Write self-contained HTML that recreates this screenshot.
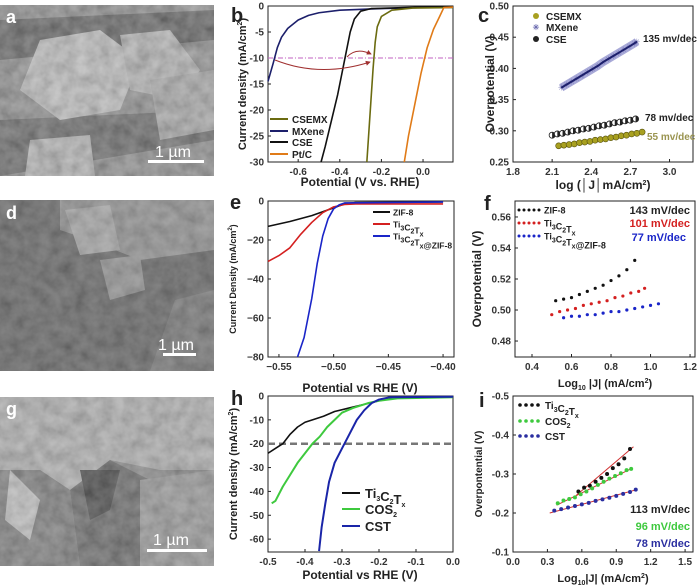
<!DOCTYPE html>
<html><head><meta charset="utf-8"><style>
html,body{margin:0;padding:0;background:#fff;}
svg{display:block;font-family:"Liberation Sans",sans-serif;}
</style></head><body>
<svg id="fig" width="700" height="588" viewBox="0 0 700 588">
<defs>
<filter id="tex" x="0" y="0" width="100%" height="100%"><feTurbulence type="fractalNoise" baseFrequency="0.08" numOctaves="3" seed="4"/><feColorMatrix type="saturate" values="0"/><feComponentTransfer><feFuncA type="linear" slope="0" intercept="0.7"/></feComponentTransfer></filter>
<marker id="ah" viewBox="0 0 6 6" refX="5" refY="3" markerWidth="5" markerHeight="5" orient="auto"><path d="M0,0 L6,3 L0,6z" fill="#a03030"/></marker>
</defs>
<g>
<rect x="0" y="5" width="214" height="171" fill="#7c7c7c"/>
<polygon points="0,20 214,10 214,40 0,60" fill="#4a4a4a"/>
<polygon points="0,120 214,110 214,140 0,176" fill="#505050"/>
<polygon points="40,40 100,30 140,60 120,110 60,120 20,90" fill="#b4b4b4"/>
<polygon points="120,35 170,30 200,70 180,100 130,90" fill="#a8a8a8"/>
<polygon points="150,80 214,70 214,130 160,140" fill="#999"/>
<polygon points="30,140 90,135 95,176 25,176" fill="#aaa"/>
<rect x="0" y="5" width="214" height="171" filter="url(#tex)" opacity="0.6"/>
<text x="6" y="23" font-size="18" font-weight="bold" fill="#fff">a</text>
<text x="155" y="157" font-size="16" fill="#fff">1 µm</text>
<rect x="148" y="160" width="56" height="3" fill="#fff"/>
</g>
<g>
<rect x="0" y="200" width="214" height="171" fill="#585858"/>
<polygon points="60,200 214,200 214,250 140,260 90,240 60,230" fill="#858585"/>
<polygon points="65,210 110,205 120,250 80,255" fill="#9c9c9c"/>
<polygon points="100,260 140,255 145,290 110,300" fill="#888"/>
<polygon points="175,300 214,290 214,371 150,371" fill="#6a6a6a"/>
<rect x="0" y="200" width="214" height="171" filter="url(#tex)" opacity="0.45"/>
<text x="6" y="219" font-size="18" font-weight="bold" fill="#fff">d</text>
<text x="158" y="350" font-size="16" fill="#fff">1 µm</text>
<rect x="163" y="353" width="33" height="3" fill="#fff"/>
</g>
<g>
<rect x="0" y="397" width="214" height="169" fill="#7a7a7a"/>
<polygon points="0,397 214,397 214,470 160,470 110,460 70,490 40,470 0,470" fill="#a4a4a4"/>
<polygon points="70,490 110,460 150,480 140,566 80,566" fill="#555"/>
<polygon points="80,470 120,470 110,510 90,520" fill="#2e2e2e"/>
<polygon points="0,470 40,470 70,490 80,566 0,566" fill="#6c6c6c"/>
<polygon points="10,470 40,500 30,540 5,520" fill="#b8b8b8"/>
<polygon points="140,480 214,470 214,566 140,566" fill="#8a8a8a"/>
<rect x="0" y="397" width="214" height="169" filter="url(#tex)" opacity="0.55"/>
<text x="6" y="415" font-size="18" font-weight="bold" fill="#fff">g</text>
<text x="153" y="545" font-size="16" fill="#fff">1 µm</text>
<rect x="147" y="549" width="60" height="3" fill="#fff"/>
</g>
<g id="charts"></g>
</svg>
<script>
const bCSEMX=[[-0.27,-30],[-0.26,-24],[-0.25,-18],[-0.24,-12],[-0.23,-7],[-0.22,-4],[-0.2,-2],[-0.15,-0.8],[-0.05,-0.4],[0.144,-0.3]];
const bMXene=[[-0.745,-14.5],[-0.72,-11],[-0.7,-8],[-0.68,-6],[-0.65,-4.3],[-0.6,-2.7],[-0.55,-1.8],[-0.5,-1.3],[-0.4,-0.8],[-0.2,-0.5],[0,-0.3],[0.144,-0.2]];
const bCSE=[[-0.49,-30],[-0.47,-27],[-0.44,-22],[-0.41,-17],[-0.39,-13],[-0.37,-9],[-0.35,-5],[-0.33,-2.5],[-0.3,-1],[-0.25,-0.5],[0,-0.2],[0.144,-0.1]];
const bPtC=[[-0.09,-30],[-0.07,-25],[-0.04,-19],[-0.01,-13],[0.02,-8],[0.05,-4.5],[0.08,-2],[0.1,-0.3],[0.144,-0.2]];
const bXTicks=[-0.6,-0.4,-0.2,0.0];
const bYTicks=[0,-5,-10,-15,-20,-25,-30];
const cCSEMXx=[2.15,2.19,2.23,2.27,2.31,2.35,2.39,2.43,2.47,2.51,2.55,2.59,2.63,2.67,2.71,2.75,2.79];
const cCSEMXy=[.276,.277,.278,.279,.281,.282,.283,.285,.286,.287,.289,.290,.292,.293,.295,.296,.298];
const cCSEx=[2.10,2.14,2.18,2.22,2.26,2.30,2.34,2.38,2.42,2.46,2.50,2.54,2.58,2.62,2.66,2.70,2.74];
const cCSEy=[.293,.295,.296,.298,.300,.301,.303,.304,.306,.308,.309,.311,.313,.314,.316,.317,.319];
const cMXx=[2.17,2.21,2.25,2.29,2.33,2.37,2.41,2.45,2.49,2.53,2.57,2.61,2.65,2.69,2.73,2.75];
const cMXy=[.369,.374,.379,.384,.389,.394,.399,.404,.410,.415,.420,.425,.430,.435,.440,.443];
const cXTicks=[1.8,2.1,2.4,2.7,3.0];
const cYTicks=[0.25,0.30,0.35,0.40,0.45,0.50];
const eZIF=[[-0.56,-13],[-0.54,-10.5],[-0.52,-7.5],[-0.5,-3.5],[-0.49,-1.5],[-0.48,-0.8],[-0.4,-0.5]];
const eTi=[[-0.56,-31],[-0.55,-28],[-0.54,-24],[-0.53,-17],[-0.52,-11],[-0.51,-6],[-0.5,-3],[-0.49,-1.8],[-0.48,-1.5],[-0.4,-1.5]];
const eTiZIF=[[-0.533,-80],[-0.527,-70],[-0.52,-50],[-0.515,-32],[-0.51,-18],[-0.505,-9],[-0.5,-4],[-0.495,-2],[-0.49,-1],[-0.4,-0.5]];
const eXTicks=[-0.55,-0.50,-0.45,-0.40];
const eYTicks=[0,-20,-40,-60,-80];
const fZIF=[[.52,.506],[.56,.507],[.60,.508],[.64,.510],[.68,.512],[.72,.514],[.76,.516],[.80,.519],[.84,.522],[.88,.526],[.92,.532]];
const fTi=[[.50,.497],[.54,.499],[.58,.500],[.62,.501],[.66,.503],[.70,.504],[.74,.505],[.78,.506],[.82,.508],[.86,.509],[.90,.511],[.94,.512],[.97,.514]];
const fTiZIF=[[.56,.495],[.60,.496],[.64,.496],[.68,.497],[.72,.497],[.76,.498],[.80,.499],[.84,.499],[.88,.500],[.92,.501],[.96,.502],[1.00,.503],[1.04,.504]];
const fXTicks=[0.4,0.6,0.8,1.0,1.2];
const fYTicks=[0.48,0.50,0.52,0.54,0.56];
const hTi=[[-0.5,-24],[-0.48,-22],[-0.46,-20],[-0.44,-16],[-0.42,-13],[-0.4,-11],[-0.38,-10],[-0.35,-8.5],[-0.32,-6.5],[-0.28,-5],[-0.24,-3.5],[-0.2,-2],[-0.16,-0.8],[-0.1,-0.4],[0,-0.3]];
const hCOS=[[-0.49,-45],[-0.48,-44],[-0.46,-38],[-0.44,-33],[-0.42,-28],[-0.4,-24],[-0.38,-20],[-0.36,-17],[-0.34,-13],[-0.32,-10],[-0.3,-7],[-0.27,-5],[-0.23,-3],[-0.2,-2],[-0.15,-1],[0,-0.5]];
const hCST=[[-0.362,-65],[-0.355,-55],[-0.345,-45],[-0.335,-36],[-0.32,-28],[-0.3,-22],[-0.28,-16],[-0.26,-10],[-0.24,-6],[-0.22,-3],[-0.2,-1.5],[-0.17,-0.5],[0,-0.3]];
const hXTicks=[-0.5,-0.4,-0.3,-0.2,-0.1,0.0];
const hYTicks=[0,-10,-20,-30,-40,-50,-60];
const iTi=[[.57,-.255],[.62,-.265],[.67,-.27],[.72,-.28],[.77,-.29],[.82,-.30],[.87,-.315],[.92,-.325],[.97,-.34],[1.02,-.364]];
const iCOS=[[.39,-.225],[.44,-.232],[.49,-.236],[.54,-.24],[.59,-.248],[.64,-.255],[.69,-.263],[.74,-.272],[.79,-.28],[.84,-.288],[.89,-.295],[.94,-.302],[.99,-.31],[1.03,-.313]];
const iCST=[[.36,-.206],[.42,-.21],[.48,-.214],[.54,-.218],[.60,-.222],[.66,-.226],[.72,-.231],[.78,-.235],[.84,-.239],[.90,-.244],[.96,-.249],[1.02,-.254],[1.07,-.26]];
const iFitTi=[[.55,-.245],[1.05,-.37]];
const iFitCOS=[[.38,-.22],[1.04,-.315]];
const iFitCST=[[.32,-.2],[1.08,-.26]];
const iXTicks=[0.0,0.3,0.6,0.9,1.2,1.5];
const iYTicks=[-0.5,-0.4,-0.3,-0.2,-0.1];

const NS='http://www.w3.org/2000/svg';
const root=document.getElementById('charts');
function mk(tag,attrs,name,parent){
  const el=document.createElementNS(NS,tag);
  for(const k in attrs) el.setAttribute(k,attrs[k]);
  
  
  (parent||root).appendChild(el);
  return el;
}
function scale(d0,d1,r0,r1){return v=>r0+(v-d0)/(d1-d0)*(r1-r0);}
function fmt(v,dec,minus){let s=v.toFixed(dec);if(v<0)s=(minus||'-')+s.slice(1);return s;}
function panel(id,px,dx,py,dy,xt,yt,xdec,ydec,minus){
  const g=mk('g',{},id+'-panel');
  const X=scale(dx[0],dx[1],px[0],px[1]),Y=scale(dy[0],dy[1],py[0],py[1]);
  mk('rect',{x:px[0],y:py[0],width:px[1]-px[0],height:py[1]-py[0],fill:'none',stroke:'#222','stroke-width':1},id+'-plot-frame',g);
  xt.forEach(v=>{const x=X(v);
    mk('line',{x1:x,x2:x,y1:py[1],y2:py[1]-3,stroke:'#222'},id+'-x-tick',g);
    const t=mk('text',{x:x,y:py[1]+13,'font-size':10,'font-weight':'bold','text-anchor':'middle',fill:'#333'},id+'-x-tick-label',g);
    t.textContent=fmt(v,xdec,minus);});
  yt.forEach(v=>{const y=Y(v);
    mk('line',{x1:px[0],x2:px[0]+3,y1:y,y2:y,stroke:'#222'},id+'-y-tick',g);
    const t=mk('text',{x:px[0]-4,y:y+3.5,'font-size':10,'font-weight':'bold','text-anchor':'end',fill:'#333'},id+'-y-tick-label',g);
    t.textContent=fmt(v,ydec,minus);});
  return {g,X,Y};
}
function line(P,data,color,name,w){
  return mk('polyline',{points:data.map(d=>P.X(d[0])+','+P.Y(d[1])).join(' '),fill:'none',stroke:color,'stroke-width':w||1.6,'stroke-linejoin':'round'},name,P.g);
}
function dots(P,data,color,name,r){
  data.forEach(d=>mk('circle',{cx:P.X(d[0]),cy:P.Y(d[1]),r:r||1.6,fill:color},name,P.g));
}
function txt(s,x,y,attrs,name){const t=mk('text',Object.assign({x:x,y:y,'font-size':11,'font-weight':'bold',fill:'#222'},attrs||{}),name);t.innerHTML=s;return t;}
const sub=n=>'<tspan font-size="7" dy="3">'+n+'</tspan><tspan dy="-3"></tspan>';

const B=panel('b',[268,453],[-0.745,0.144],[6,162],[0,-30],bXTicks,bYTicks,1,0);
mk('line',{x1:268,x2:453,y1:B.Y(-10),y2:B.Y(-10),stroke:'#c060c0','stroke-width':1,'stroke-dasharray':'5,2,1,2'},'b-reference-line',B.g);
line(B,bMXene,'#1c1f6b','b-line-mxene');
line(B,bCSE,'#111','b-line-cse');
line(B,bCSEMX,'#6b6b10','b-line-csemx');
line(B,bPtC,'#e07b18','b-line-ptc');
mk('path',{d:'M275,60 Q320,78 370,62',fill:'none',stroke:'#a03030','stroke-width':1,'marker-end':'url(#ah)'},'b-arrow-long',B.g);
mk('path',{d:'M347,57 Q356,47 371,54',fill:'none',stroke:'#a03030','stroke-width':1,'marker-end':'url(#ah)'},'b-arrow-short',B.g);
[['CSEMX','#6b6b10',119],['MXene','#1c1f6b',131],['CSE','#111',142],['Pt/C','#e07b18',154]].forEach(l=>{
  mk('line',{x1:270,x2:288,y1:l[2],y2:l[2],stroke:l[1],'stroke-width':2},'b-legend-swatch',B.g);
  txt(l[0],292,l[2]+4,{'font-size':10},'b-legend-label');});
txt('b',231,22,{'font-size':20},'panel-label-b');
txt('Potential (V vs. RHE)',360,186,{'text-anchor':'middle','font-size':12},'b-x-axis-title');
txt('Current density (mA/cm<tspan font-size="7" dy="-4">2</tspan><tspan dy="4">)</tspan>',246,84,{'text-anchor':'middle','transform':'rotate(-90 246 84)','font-size':11},'b-y-axis-title');

const C=panel('c',[513,693],[1.8,3.18],[6,162],[0.5,0.25],cXTicks,cYTicks,1,2);
line(C,cMXx.map((x,i)=>[x,cMXy[i]]),'#a9aad8','c-band-mxene',8);
cMXx.forEach((x,i)=>mk('text',{x:C.X(x),y:C.Y(cMXy[i])+3,'font-size':8,'text-anchor':'middle',fill:'#6c6cb0'},'c-marker-mxene',C.g).textContent='✳');
line(C,cMXx.map((x,i)=>[x,cMXy[i]]),'#1c1f6b','c-line-mxene',2);
cCSEx.forEach((x,i)=>{mk('circle',{cx:C.X(x),cy:C.Y(cCSEy[i]),r:3,fill:'#fff',stroke:'#222','stroke-width':0.8},'c-marker-cse',C.g);
  mk('path',{d:`M${C.X(x)},${C.Y(cCSEy[i])-3} a3,3 0 0 1 0,6z`,fill:'#222'},'c-marker-cse-half',C.g);});
cCSEMXx.forEach((x,i)=>mk('circle',{cx:C.X(x),cy:C.Y(cCSEMXy[i]),r:3,fill:'#a8a020',stroke:'#55500a','stroke-width':0.6},'c-marker-csemx',C.g));
mk('circle',{cx:536,cy:16,r:3,fill:'#a8a020'},'c-legend-csemx-marker');
txt('CSEMX',546,20,{'font-size':10},'c-legend-csemx');
txt('✳',536,30,{'font-size':8,'text-anchor':'middle',fill:'#6c6cb0'},'c-legend-mxene-marker');
txt('MXene',546,31,{'font-size':10},'c-legend-mxene');
mk('circle',{cx:536,cy:39,r:3,fill:'#222'},'c-legend-cse-marker');
txt('CSE',546,43,{'font-size':10},'c-legend-cse');
txt('135 mv/dec',643,42,{'font-size':10},'c-slope-mxene');
txt('78 mv/dec',645,121,{'font-size':10},'c-slope-cse');
txt('55 mv/dec',647,140,{'font-size':10,fill:'#9a9450'},'c-slope-csemx');
txt('c',478,22,{'font-size':20},'panel-label-c');
txt('log (│J│mA/cm<tspan font-size="7" dy="-4">2</tspan><tspan dy="4">)</tspan>',603,189,{'text-anchor':'middle','font-size':12},'c-x-axis-title');
txt('Overpotential (V)',494,84,{'text-anchor':'middle','transform':'rotate(-90 494 84)','font-size':12},'c-y-axis-title');

const E=panel('e',[268,454],[-0.56,-0.39],[201,357],[0,-80],eXTicks,eYTicks,2,0,'−');
line(E,eZIF,'#111','e-line-zif8');
line(E,eTi,'#d42020','e-line-ti3c2tx');
line(E,eTiZIF,'#1a25c8','e-line-ti3c2tx-zif8');
[['ZIF-8','#111',212],['Ti'+sub(3)+'C'+sub(2)+'T'+sub('x'),'#d42020',224],['Ti'+sub(3)+'C'+sub(2)+'T'+sub('x')+'@ZIF-8','#1a25c8',236]].forEach(l=>{
  mk('line',{x1:373,x2:390,y1:l[2],y2:l[2],stroke:l[1],'stroke-width':2},'e-legend-swatch',E.g);
  txt(l[0],393,l[2]+3.5,{'font-size':8.5},'e-legend-label');});
txt('e',230,209,{'font-size':20},'panel-label-e');
txt('Potential vs RHE (V)',360,392,{'text-anchor':'middle','font-size':12},'e-x-axis-title');
txt('Current Density (mA/cm<tspan font-size="6" dy="-4">2</tspan><tspan dy="4">)</tspan>',236,279,{'text-anchor':'middle','transform':'rotate(-90 236 279)','font-size':9},'e-y-axis-title');

const F=panel('f',[515,695],[0.314,1.225],[201,357],[0.5703,0.4697],fXTicks,fYTicks,1,2);
dots(F,fZIF,'#111','f-point-zif8');
dots(F,fTi,'#d42020','f-point-ti3c2tx');
dots(F,fTiZIF,'#1a25c8','f-point-ti3c2tx-zif8');
[['ZIF-8','#111',210],['Ti'+sub(3)+'C'+sub(2)+'T'+sub('x'),'#d42020',223],['Ti'+sub(3)+'C'+sub(2)+'T'+sub('x')+'@ZIF-8','#1a25c8',236]].forEach(l=>{
  for(let k=0;k<5;k++) mk('circle',{cx:519+k*5,cy:l[2],r:1.5,fill:l[1]},'f-legend-dot',F.g);
  txt(l[0],544,l[2]+3.5,{'font-size':9},'f-legend-label');});
txt('143 mV/dec',690,214,{'text-anchor':'end','font-size':11},'f-slope-zif8');
txt('101 mV/dec',690,227,{'text-anchor':'end','font-size':11,fill:'#d42020'},'f-slope-ti3c2tx');
txt('77 mV/dec',686,241,{'text-anchor':'end','font-size':11,fill:'#1a25c8'},'f-slope-ti3c2tx-zif8');
txt('f',484,210,{'font-size':20},'panel-label-f');
txt('Log<tspan font-size="7" dy="3">10</tspan><tspan dy="-3"> |J| (mA/cm</tspan><tspan font-size="7" dy="-4">2</tspan><tspan dy="4">)</tspan>',605,387,{'text-anchor':'middle','font-size':11},'f-x-axis-title');
txt('Overpotential (V)',481,279,{'text-anchor':'middle','transform':'rotate(-90 481 279)','font-size':12},'f-y-axis-title');

const H=panel('h',[268,453],[-0.5,0],[396,552],[0,-65.4],hXTicks,hYTicks,1,0);
mk('line',{x1:268,x2:453,y1:H.Y(-20),y2:H.Y(-20),stroke:'#777','stroke-width':2.5,'stroke-dasharray':'7,4'},'h-reference-line',H.g);
line(H,hTi,'#111','h-line-ti3c2tx');
line(H,hCOS,'#3ec93e','h-line-cos2',2);
line(H,hCST,'#1a25a8','h-line-cst',2);
[['Ti'+sub(3)+'C'+sub(2)+'T'+sub('x'),'#111',493],['COS'+sub(2),'#3ec93e',509],['CST','#1a25a8',526]].forEach(l=>{
  mk('line',{x1:342,x2:360,y1:l[2],y2:l[2],stroke:l[1],'stroke-width':2},'h-legend-swatch',H.g);
  txt(l[0],365,l[2]+5,{'font-size':13},'h-legend-label');});
txt('h',231,405,{'font-size':20},'panel-label-h');
txt('Potential vs RHE (V)',360,579,{'text-anchor':'middle','font-size':12},'h-x-axis-title');
txt('Current density (mA/cm<tspan font-size="7" dy="-4">2</tspan><tspan dy="4">)</tspan>',237,474,{'text-anchor':'middle','transform':'rotate(-90 237 474)','font-size':11},'h-y-axis-title');

const I=panel('i',[513,693],[0,1.569],[396,552],[-0.5,-0.1],iXTicks,iYTicks,1,1);
line(I,iFitTi,'#d03030','i-fit-ti3c2tx',1);
line(I,iFitCOS,'#d03030','i-fit-cos2',1);
line(I,iFitCST,'#d03030','i-fit-cst',1);
dots(I,iTi,'#111','i-point-ti3c2tx',2);
dots(I,iCOS,'#3ec93e','i-point-cos2',2);
dots(I,iCST,'#2a2ea0','i-point-cst',2);
[['Ti'+sub(3)+'C'+sub(2)+'T'+sub('x'),'#111',405],['COS'+sub(2),'#3ec93e',421],['CST','#2a2ea0',436]].forEach(l=>{
  for(let k=0;k<4;k++) mk('circle',{cx:520+k*6,cy:l[2],r:1.8,fill:l[1]},'i-legend-dot',I.g);
  txt(l[0],545,l[2]+4,{'font-size':10},'i-legend-label');});
txt('113 mV/dec',690,513,{'text-anchor':'end','font-size':11},'i-slope-ti3c2tx');
txt('96 mV/dec',690,530,{'text-anchor':'end','font-size':11,fill:'#3ec93e'},'i-slope-cos2');
txt('78 mV/dec',690,547,{'text-anchor':'end','font-size':11,fill:'#2a2ea0'},'i-slope-cst');
txt('i',479,407,{'font-size':20},'panel-label-i');
txt('Log<tspan font-size="7" dy="3">10</tspan><tspan dy="-3">|J| (mA/cm</tspan><tspan font-size="7" dy="-4">2</tspan><tspan dy="4">)</tspan>',603,582,{'text-anchor':'middle','font-size':11},'i-x-axis-title');
txt('Overpontential (V)',482,474,{'text-anchor':'middle','transform':'rotate(-90 482 474)','font-size':10},'i-y-axis-title');
</script>
</body></html>
